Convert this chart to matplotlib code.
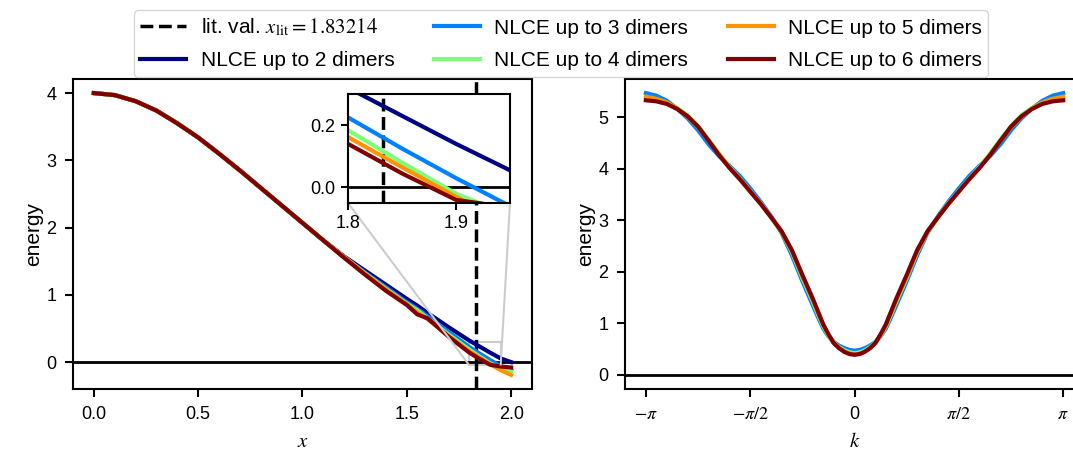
import numpy as np
import matplotlib.pyplot as plt
from mpl_toolkits.axes_grid1.inset_locator import mark_inset

plt.rcParams["font.family"] = ["Liberation Sans", "DejaVu Sans"]
plt.rcParams["mathtext.fontset"] = "stix"
plt.rcParams["font.size"] = 13

# ----------------------------
# Data
# ----------------------------
x_lit = 1.83214
labels = ["NLCE up to 2 dimers", "NLCE up to 3 dimers", "NLCE up to 4 dimers",
          "NLCE up to 5 dimers", "NLCE up to 6 dimers"]

# left panel: energy vs x
x_vals = [0.0, 0.1, 0.2, 0.3, 0.4, 0.5, 0.6, 0.7, 0.8, 0.9, 1.0, 1.1, 1.2,
          1.3, 1.4, 1.5, 1.55, 1.6, 1.7, 1.8, 1.85, 1.9, 1.95, 2.0]
e_x2 = [4.0, 3.97, 3.88, 3.74, 3.55, 3.34, 3.10, 2.85, 2.59, 2.33, 2.07, 1.81, 1.57,
        1.36, 1.15, 0.94, 0.84, 0.73, 0.52, 0.32, 0.23, 0.14, 0.055, 0.0]
e_x3 = [4.0, 3.97, 3.88, 3.74, 3.55, 3.34, 3.10, 2.85, 2.59, 2.33, 2.07, 1.81, 1.56,
        1.33, 1.11, 0.89, 0.79, 0.68, 0.45, 0.225, 0.125, 0.03, -0.06, -0.12]
e_x4 = [4.0, 3.97, 3.88, 3.74, 3.55, 3.34, 3.10, 2.85, 2.59, 2.33, 2.07, 1.81, 1.56,
        1.32, 1.09, 0.87, 0.77, 0.65, 0.41, 0.184, 0.08, -0.02, -0.09, -0.14]
e_x5 = [4.0, 3.97, 3.88, 3.74, 3.55, 3.34, 3.10, 2.85, 2.59, 2.33, 2.07, 1.81, 1.56,
        1.31, 1.08, 0.86, 0.74, 0.64, 0.39, 0.162, 0.065, -0.03, -0.12, -0.19]
e_x6 = [4.0, 3.97, 3.88, 3.74, 3.55, 3.34, 3.10, 2.85, 2.59, 2.33, 2.07, 1.81, 1.55,
        1.30, 1.06, 0.85, 0.71, 0.65, 0.38, 0.14, 0.045, -0.04, -0.065, -0.08]

# right panel: dispersion vs k (k in units of pi)
k_pi = [-1.0, -0.95, -0.9, -0.85, -0.8, -0.75, -0.7, -0.65, -0.6, -0.55, -0.5,
        -0.45, -0.4, -0.35, -0.3, -0.25, -0.2, -0.175, -0.15, -0.125, -0.1,
        -0.075, -0.05, -0.025, 0.0, 0.025, 0.05, 0.075,
        0.1, 0.125, 0.15, 0.175, 0.2, 0.25, 0.3, 0.35, 0.4, 0.45, 0.5,
        0.55, 0.6, 0.65, 0.7, 0.75, 0.8, 0.85, 0.9, 0.95, 1.0]
e_k3 = [5.47, 5.42, 5.32, 5.17, 4.98, 4.75, 4.48, 4.25, 4.06, 3.86, 3.62,
        3.36, 3.08, 2.76, 2.32, 1.82, 1.35, 1.12, 0.90, 0.75, 0.64,
        0.57, 0.52, 0.485, 0.47, 0.485, 0.52, 0.57,
        0.64, 0.75, 0.90, 1.12, 1.35, 1.82, 2.32, 2.76, 3.08, 3.36, 3.62,
        3.86, 4.06, 4.25, 4.48, 4.75, 4.98, 5.17, 5.32, 5.42, 5.47]
e_k4 = [5.35, 5.33, 5.27, 5.18, 5.04, 4.83, 4.57, 4.30, 4.04, 3.81, 3.57,
        3.33, 3.06, 2.78, 2.38, 1.88, 1.42, 1.17, 0.94, 0.76, 0.63,
        0.54, 0.48, 0.44, 0.42, 0.44, 0.48, 0.54,
        0.63, 0.76, 0.94, 1.17, 1.42, 1.88, 2.38, 2.78, 3.06, 3.33, 3.57,
        3.81, 4.04, 4.30, 4.57, 4.83, 5.04, 5.18, 5.27, 5.33, 5.35]
e_k5 = [5.40, 5.36, 5.29, 5.17, 5.01, 4.81, 4.55, 4.28, 4.03, 3.80, 3.56,
        3.32, 3.06, 2.78, 2.40, 1.91, 1.45, 1.20, 0.96, 0.77, 0.62,
        0.53, 0.46, 0.415, 0.40, 0.415, 0.46, 0.53,
        0.62, 0.77, 0.96, 1.20, 1.45, 1.91, 2.40, 2.78, 3.06, 3.32, 3.56,
        3.80, 4.03, 4.28, 4.55, 4.81, 5.01, 5.17, 5.29, 5.36, 5.40]
e_k6 = [5.33, 5.31, 5.26, 5.16, 5.02, 4.82, 4.55, 4.27, 4.02, 3.80, 3.56,
        3.32, 3.06, 2.79, 2.42, 1.94, 1.48, 1.23, 0.98, 0.79, 0.62,
        0.52, 0.45, 0.405, 0.39, 0.405, 0.45, 0.52,
        0.62, 0.79, 0.98, 1.23, 1.48, 1.94, 2.42, 2.79, 3.06, 3.32, 3.56,
        3.80, 4.02, 4.27, 4.55, 4.82, 5.02, 5.16, 5.26, 5.31, 5.33]

left_series = [e_x2, e_x3, e_x4, e_x5, e_x6]
right_series = [None, e_k3, e_k4, e_k5, e_k6]
colors = plt.cm.jet(np.linspace(0, 1, 5))

# ----------------------------
# Figure
# ----------------------------
fig = plt.figure(figsize=(10.73, 4.54), dpi=100)
ax1 = fig.add_axes([0.068, 0.1432, 0.4278, 0.6828])
ax2 = fig.add_axes([0.5825, 0.1432, 0.4278, 0.6828])
axins = fig.add_axes([0.3243, 0.5529, 0.151, 0.240])

lw = 3
for ax in (ax1, axins):
    ax.axvline(x_lit, color="k", ls="--", lw=2.5, label="lit. val. $x_\\mathrm{lit} = 1.83214$")
    ax.axhline(0, color="k", lw=2)
    for ys, c, lab in zip(left_series, colors, labels):
        ax.plot(x_vals, ys, color=c, lw=lw, label=lab)

ax1.set_xlabel("$x$", fontsize=15, labelpad=7)
ax1.set_ylabel("energy", fontsize=15, labelpad=2)
ax1.set_xticks([0.0, 0.5, 1.0, 1.5, 2.0])
ax1.set_yticks([0, 1, 2, 3, 4])

axins.set_xlim(1.8, 1.95)
axins.set_ylim(-0.05, 0.3)
axins.set_xticks([1.8, 1.9])
axins.set_yticks([0.0, 0.2])
mark_inset(ax1, axins, loc1=3, loc2=4, fc="none", ec="0.8", lw=1.5)

k = np.array(k_pi) * np.pi
ax2.axhline(0, color="k", lw=2)
for ys, c in zip(right_series, colors):
    if ys is None:
        continue
    ax2.plot(k, ys, color=c, lw=lw)
ax2.set_xticks([-np.pi, -np.pi / 2, 0, np.pi / 2, np.pi])
ax2.set_xticklabels(["$-\\pi$", "$-\\pi/2$", "0", "$\\pi/2$", "$\\pi$"])
ax2.set_yticks([0, 1, 2, 3, 4, 5])
ax2.set_xlabel("$k$", fontsize=15, labelpad=7)
ax2.set_ylabel("energy", fontsize=15, labelpad=2)

for ax in (ax1, ax2):
    for s in ax.spines.values():
        s.set_linewidth(1.5)
    ax.tick_params(width=1.5, length=6, pad=6)
for s in axins.spines.values():
    s.set_linewidth(1.5)
axins.tick_params(width=1.5, length=5, pad=4)

handles, labs = ax1.get_legend_handles_labels()
fig.legend(handles, labs, loc="upper center", bbox_to_anchor=(0.523, 1.0),
           ncol=3, fontsize=15, handlelength=2.2, handletextpad=0.7,
           columnspacing=1.9, borderpad=0.3, labelspacing=0.63)

fig.savefig("out.png", dpi=100)
